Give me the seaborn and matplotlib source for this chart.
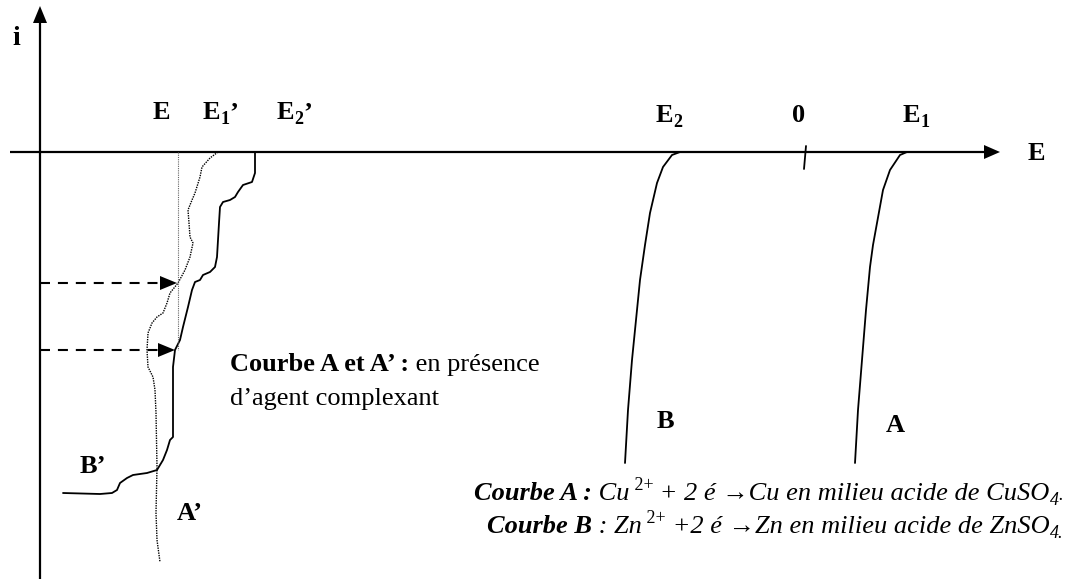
import numpy as np
import pandas as pd
import matplotlib
matplotlib.use("Agg")
import matplotlib.pyplot as plt
from matplotlib.patches import Polygon
import seaborn as sns

# Schematic current–potential curves, drawn in a page-like frame
# (E grows to the right, cathodic current i goes downward).

# Curve B : Zn2+ reduction, starting at E2
curve_B_E = [680, 672, 663, 657, 650, 645, 640, 636, 632, 628, 625]
curve_B_i = [152, 155, 167, 183, 213, 245, 280, 320, 360, 410, 463]

# Curve A : Cu2+ reduction, starting at E1
curve_A_E = [907, 900, 890, 883, 877, 873, 870, 866, 862, 858, 855]
curve_A_i = [152, 155, 170, 190, 223, 245, 267, 310, 360, 410, 463]

# Curve A' (with complexing agent), dotted
curve_A2_E = [218, 210, 202, 200, 195, 192, 188, 189, 190, 193, 190, 185, 178,
              170, 167, 163, 157, 152, 148, 147, 148, 153, 155, 156, 157, 156,
              157, 160]
curve_A2_i = [152, 158, 167, 177, 193, 200, 210, 223, 237, 243, 257, 270, 283,
              293, 303, 313, 317, 323, 333, 350, 367, 377, 390, 413, 467, 513,
              540, 562]

# Curve B' (with complexing agent), solid
curve_B2_E = [255, 255, 252, 243, 238, 235, 230, 223, 220, 219, 218, 217, 215,
              210, 203, 200, 195, 192, 188, 183, 180, 175, 173, 173, 170, 167,
              163, 157, 147, 133, 127, 120, 117, 112, 100, 63]
curve_B2_i = [152, 173, 182, 185, 192, 197, 200, 202, 207, 223, 240, 257, 267,
              272, 275, 280, 282, 290, 307, 327, 340, 350, 367, 437, 440, 450,
              460, 470, 473, 475, 478, 483, 490, 493, 494, 493]

# Potential E of the mixed system and the two current levels read on it
E_mix = 178
i_levels = [283, 350]
i_tips = [177, 175]

W, H = 1066, 579
sns.set_theme(style="white")
plt.rcParams["font.family"] = ["Liberation Serif", "DejaVu Serif"]
plt.rcParams["text.color"] = "black"

fig = plt.figure(figsize=(W / 100, H / 100), dpi=100)
ax = fig.add_axes([0, 0, 1, 1])
ax.set_xlim(0, W)
ax.set_ylim(H, 0)
ax.axis("off")

K = "black"

# axes with arrow heads
ax.plot([40, 40], [579, 20], color=K, lw=1.6, solid_capstyle="butt")
ax.add_patch(Polygon([[40, 6], [33, 23], [47, 23]], closed=True, color=K, lw=0))
ax.plot([10, 986], [152, 152], color=K, lw=1.6, solid_capstyle="butt")
ax.add_patch(Polygon([[1000, 152], [984, 145], [984, 159]], closed=True, color=K, lw=0))
# tick at zero
ax.plot([806, 804], [146, 169], color=K, lw=1.3)


def draw_curve(xs, ys, **kw):
    df = pd.DataFrame({"E": xs, "i": ys})
    sns.lineplot(data=df, x="E", y="i", sort=False, estimator=None, ax=ax,
                 color=K, legend=False, **kw)


draw_curve(curve_B_E, curve_B_i, lw=1.3)
draw_curve(curve_A_E, curve_A_i, lw=1.3)
draw_curve(curve_B2_E, curve_B2_i, lw=1.3)
draw_curve(curve_A2_E, curve_A2_i, lw=1.0, linestyle=(0, (1, 0.8)))
ax.set_xlim(0, W)
ax.set_ylim(H, 0)
ax.set_xlabel("")
ax.set_ylabel("")

# vertical line at E
ax.plot([E_mix, E_mix], [152, 350], color="#666666", lw=0.8, linestyle=(0, (1, 1)))

# dashed arrows from the current axis
for yl, xt in zip(i_levels, i_tips):
    ax.plot([40, xt - 16], [yl, yl], color=K, lw=1.5, linestyle=(0, (4.8, 3.8)),
            dash_capstyle="butt")
    ax.add_patch(Polygon([[xt, yl], [xt - 17, yl - 7], [xt - 17, yl + 7]],
                         closed=True, color=K, lw=0))

fig.canvas.draw()
renderer = fig.canvas.get_renderer()


def width_of(t):
    return t.get_window_extent(renderer).width


def runs_text(x, y, runs, ha="left"):
    """Place a sequence of text runs: (text, size, weight, style, dy)."""
    made = []
    cx = 0.0
    for txt, size, weight, style, dy in runs:
        t = ax.text(0, 0, txt, fontsize=size, fontweight=weight, fontstyle=style,
                    va="baseline", ha="left", color=K)
        made.append((t, cx, dy))
        cx += width_of(t)
    total = cx
    x0 = x - total if ha == "right" else x
    for t, off, dy in made:
        t.set_position((x0 + off, y + dy))
    return total


LB = 19  # big bold labels
SB = 13  # subscript size
DS = 5   # subscript drop (px)

ax.text(12, 45, "i", fontsize=20, fontweight="bold", va="baseline", color=K)
ax.text(1028, 160, "E", fontsize=LB, fontweight="bold", va="baseline", color=K)

runs_text(153, 119, [("E", LB, "bold", "normal", 0)])
runs_text(203, 119, [("E", LB, "bold", "normal", 0), ("1", SB, "bold", "normal", DS),
                     ("\u2019", LB, "bold", "normal", 0)])
runs_text(277, 119, [("E", LB, "bold", "normal", 0), ("2", SB, "bold", "normal", DS),
                     ("\u2019", LB, "bold", "normal", 0)])
runs_text(656, 122, [("E", LB, "bold", "normal", 0), ("2", SB, "bold", "normal", DS)])
runs_text(792, 122, [("0", LB, "bold", "normal", 0)])
runs_text(903, 122, [("E", LB, "bold", "normal", 0), ("1", SB, "bold", "normal", DS)])

ax.text(80, 473, "B\u2019", fontsize=LB, fontweight="bold", va="baseline", color=K)
ax.text(177, 520, "A\u2019", fontsize=LB, fontweight="bold", va="baseline", color=K)
ax.text(657, 428, "B", fontsize=LB, fontweight="bold", va="baseline", color=K)
ax.text(886, 432, "A", fontsize=LB, fontweight="bold", va="baseline", color=K)

MS = 19
runs_text(230, 371, [("Courbe A et A\u2019 :", MS, "bold", "normal", 0),
                     (" en présence", MS, "normal", "normal", 0)])
ax.text(230, 405, "d\u2019agent complexant", fontsize=MS, va="baseline", color=K)

IS = 19
ISS = 13
runs_text(1063, 500, [("Courbe A :", IS, "bold", "italic", 0),
                      (" Cu", IS, "normal", "italic", 0),
                      (" 2+", ISS, "normal", "normal", -10),
                      (" + 2 é \u2192Cu en milieu acide de CuSO", IS, "normal", "italic", 0),
                      ("4", ISS, "normal", "italic", 5),
                      (".", ISS, "normal", "italic", 0)], ha="right")
runs_text(1063, 533, [("Courbe B", IS, "bold", "italic", 0),
                      (" : Zn", IS, "normal", "italic", 0),
                      (" 2+", ISS, "normal", "normal", -10),
                      (" +2 é \u2192Zn en milieu acide de ZnSO", IS, "normal", "italic", 0),
                      ("4.", ISS, "normal", "italic", 5)], ha="right")

fig.savefig("out.png", dpi=100)
